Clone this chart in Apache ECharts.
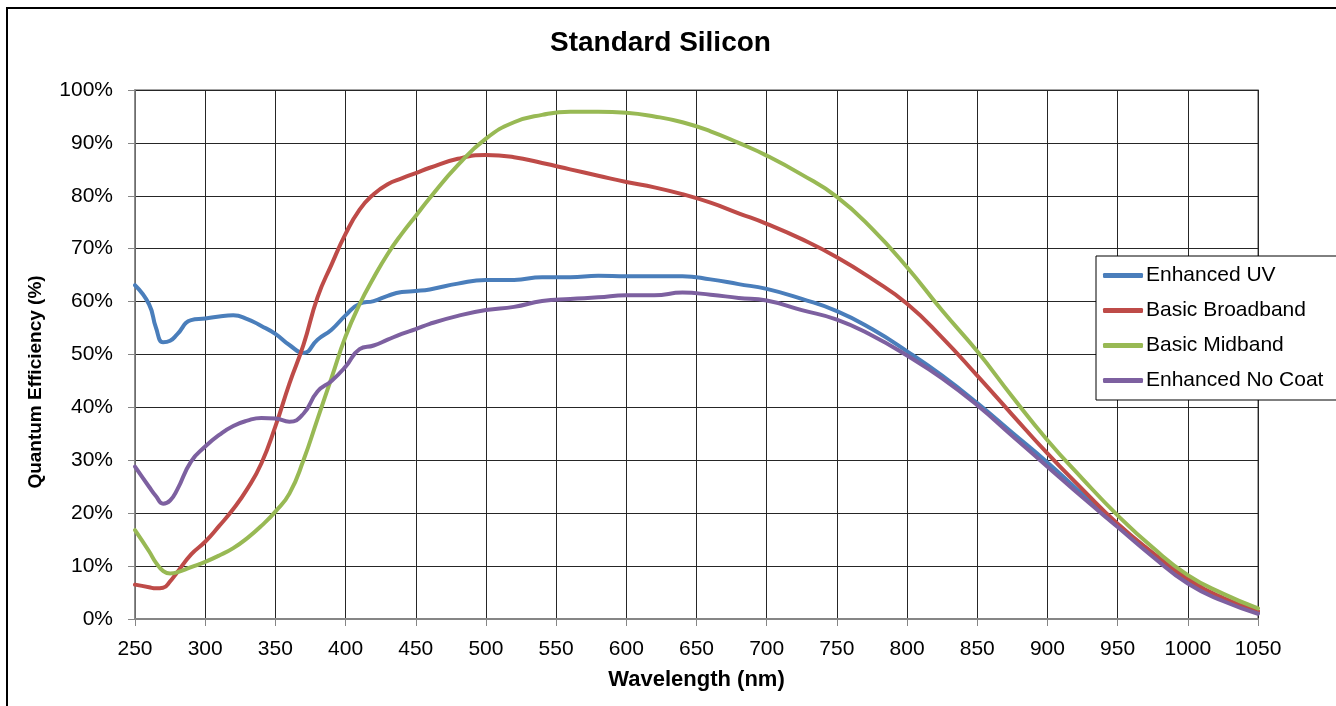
<!DOCTYPE html>
<html>
<head>
<meta charset="utf-8">
<title>Standard Silicon</title>
<script src="https://cdn.jsdelivr.net/npm/echarts@6/dist/echarts.min.js"></script>
<style>
  html, body { margin: 0; padding: 0; background: #fff; }
  #main { width: 1336px; height: 706px; }
</style>
</head>
<body>
<div id="main"></div>
<script>
// wavelengths (nm) shared by every curve
var wavelengths = [250, 260, 265, 270, 275, 280, 290, 300, 310, 320, 330, 340, 350, 360, 370, 380, 390, 400,
  410, 420, 430, 440, 450, 460, 480, 500, 520, 540, 560, 580, 600, 620, 640, 660, 680, 700,
  725, 750, 775, 800, 825, 850, 875, 900, 925, 950, 975, 1000, 1025, 1050];

var enhancedUV = [63.1, 59.5, 55.0, 52.3, 52.6, 53.8, 56.5, 56.8, 57.2, 57.4, 56.7, 55.4, 53.9, 51.8, 50.3, 52.8, 54.7, 57.4,
  59.6, 60.1, 61.1, 61.8, 62.0, 62.3, 63.4, 64.1, 64.1, 64.6, 64.6, 64.9, 64.8, 64.8, 64.8, 64.2, 63.3, 62.4,
  60.5, 58.2, 54.8, 50.6, 46.0, 40.8, 35.2, 29.6, 23.6, 17.9, 12.2, 7.0, 3.6, 1.3];

var basicBroadband = [6.5, 6.0, 5.8, 5.9, 7.1, 8.8, 12.2, 14.6, 17.6, 20.8, 24.6, 29.4, 36.4, 44.5, 51.8, 60.8, 67.0, 72.8,
  77.4, 80.3, 82.2, 83.3, 84.3, 85.3, 87.0, 87.7, 87.3, 86.2, 85.0, 83.8, 82.6, 81.6, 80.3, 78.7, 76.7, 74.7,
  71.8, 68.4, 64.3, 59.6, 53.2, 46.0, 38.6, 31.3, 24.5, 18.0, 12.5, 7.6, 4.0, 1.5];

var basicMidband = [16.8, 12.8, 10.6, 9.1, 8.6, 8.8, 9.8, 10.8, 12.0, 13.4, 15.3, 17.6, 20.3, 23.7, 30.0, 37.8, 45.6, 53.4,
  59.5, 64.5, 69.0, 72.8, 76.2, 79.6, 85.8, 90.8, 93.9, 95.3, 95.9, 95.9, 95.7, 95.0, 93.9, 92.2, 90.0, 87.6,
  84.0, 79.8, 73.8, 66.5, 58.3, 50.6, 42.0, 33.8, 26.5, 19.6, 13.5, 8.3, 4.8, 2.0];

var enhancedNoCoat = [28.8, 25.0, 23.2, 21.8, 22.4, 24.4, 29.8, 32.6, 34.8, 36.5, 37.5, 38.0, 37.9, 37.3, 38.8, 43.0, 45.0, 47.7,
  51.0, 51.7, 52.8, 53.9, 54.8, 55.8, 57.3, 58.4, 59.0, 60.1, 60.5, 60.8, 61.2, 61.2, 61.7, 61.3, 60.7, 60.2,
  58.4, 56.6, 53.6, 49.8, 45.5, 40.4, 34.6, 28.8, 23.0, 17.4, 11.8, 6.7, 3.4, 1.0];

var seriesNames = ['Enhanced UV', 'Basic Broadband', 'Basic Midband', 'Enhanced No Coat'];
var seriesColors = ['#4a7ebb', '#be4b48', '#98b954', '#7d60a0'];
var seriesValues = [enhancedUV, basicBroadband, basicMidband, enhancedNoCoat];

function pairs(values) {
  return wavelengths.map(function (w, i) { return [w, values[i]]; });
}

var chart = echarts.init(document.getElementById('main'));

var option = {
  animation: false,
  backgroundColor: '#fff',
  textStyle: { fontFamily: 'Liberation Sans, Arial, sans-serif' },
  title: {
    text: 'Standard Silicon',
    left: 545,
    top: 24,
    textStyle: { fontSize: 28, fontWeight: 'bold', color: '#000' }
  },
  graphic: [
    {
      type: 'rect',
      shape: { x: 7, y: 8, width: 1400, height: 800 },
      style: { fill: 'none', stroke: '#000', lineWidth: 2 },
      silent: true
    },
    {
      type: 'text',
      x: 36,
      y: 382,
      rotation: Math.PI / 2,
      style: {
        text: 'Quantum Efficiency (%)',
        fill: '#000',
        font: 'bold 19px Liberation Sans, Arial, sans-serif',
        align: 'center',
        verticalAlign: 'middle'
      }
    }
  ],
  legend: {
    orient: 'vertical',
    left: 1096,
    top: 256,
    data: seriesNames,
    icon: 'roundRect',
    itemWidth: 40,
    itemHeight: 5,
    itemGap: 14,
    padding: [9, 40, 9, 7],
    backgroundColor: '#fff',
    borderColor: '#000',
    borderWidth: 1,
    borderRadius: 0,
    textStyle: { fontSize: 21, color: '#000', lineHeight: 21, padding: [0, 0, 0, -2] }
  },
  grid: {
    left: 135,
    right: 78,
    top: 90,
    bottom: 87,
    show: true,
    borderColor: '#868686',
    borderWidth: 1.5
  },
  xAxis: {
    type: 'value',
    min: 250,
    max: 1050,
    interval: 50,
    name: 'Wavelength (nm)',
    nameLocation: 'middle',
    nameGap: 50,
    nameTextStyle: { fontSize: 22, fontWeight: 'bold', color: '#000' },
    axisLine: { show: true, lineStyle: { color: '#868686', width: 2 } },
    axisTick: { show: true, length: 7, lineStyle: { color: '#868686' } },
    axisLabel: { fontSize: 21, color: '#000', margin: 20, formatter: function (v) { return String(v); } },
    splitLine: { show: true, lineStyle: { color: '#262626', width: 1 } }
  },
  yAxis: {
    type: 'value',
    min: 0,
    max: 100,
    interval: 10,
    axisLine: { show: true, lineStyle: { color: '#868686', width: 1.5 } },
    axisTick: { show: true, length: 7, lineStyle: { color: '#868686' } },
    axisLabel: { fontSize: 21, color: '#000', margin: 22, formatter: '{value}%' },
    splitLine: { show: true, lineStyle: { color: '#262626', width: 1 } }
  },
  series: seriesNames.map(function (name, i) {
    return {
      name: name,
      type: 'line',
      data: pairs(seriesValues[i]),
      smooth: 0.5,
      symbol: 'none',
      color: seriesColors[i],
      lineStyle: { width: 4, color: seriesColors[i], cap: 'round', join: 'round' }
    };
  })
};

chart.setOption(option);
</script>
</body>
</html>
